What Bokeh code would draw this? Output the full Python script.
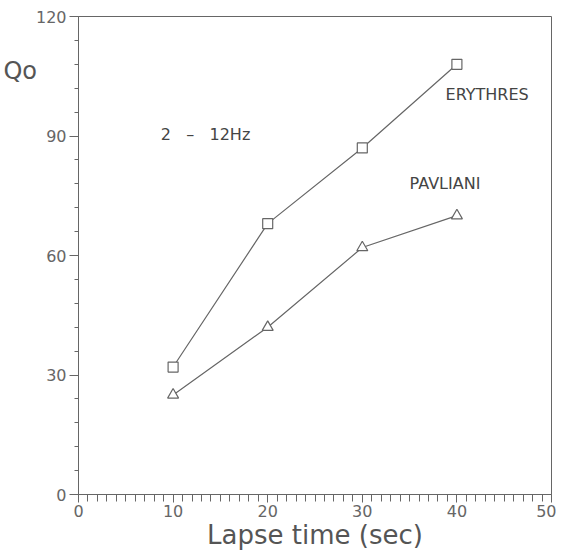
from bokeh.plotting import figure
from bokeh.models import FixedTicker, Range1d, Label
from bokeh.embed import file_html
from bokeh.resources import INLINE

lapse = [10, 20, 30, 40]
erythres = [32, 68, 87, 108]
pavliani = [25, 42, 62, 70]
x_ticks = [0, 10, 20, 30, 40, 50]
y_ticks = [0, 30, 60, 90, 120]

GREY = "#666666"
FONT = "DejaVu Sans"

p = figure(width=556, height=552, output_backend="svg", toolbar_location=None,
           x_range=Range1d(0, 50), y_range=Range1d(0, 120),
           min_border_left=77, min_border_top=16, min_border_right=5, min_border_bottom=58)
p.grid.visible = False
p.outline_line_color = GREY
p.outline_line_width = 1
p.background_fill_color = "white"

p.xaxis.ticker = FixedTicker(ticks=x_ticks, minor_ticks=list(range(0, 51)))
p.yaxis.ticker = FixedTicker(ticks=y_ticks, minor_ticks=list(range(0, 121, 6)))

for ax in (p.xaxis, p.yaxis):
    ax.axis_line_color = GREY
    ax.major_tick_line_color = GREY
    ax.minor_tick_line_color = GREY
    ax.major_tick_in = 0
    ax.minor_tick_in = 0
    ax.major_label_text_font = FONT
    ax.major_label_text_color = GREY
    ax.major_label_text_font_size = "16px"

p.xaxis.major_tick_out = 8
p.xaxis.minor_tick_out = 7
p.xaxis.major_label_standoff = 2
p.xaxis.axis_label = "Lapse time (sec)"
p.xaxis.axis_label_text_font = FONT
p.xaxis.axis_label_text_font_style = "normal"
p.xaxis.axis_label_text_color = "#555555"
p.xaxis.axis_label_text_font_size = "26px"
p.xaxis.axis_label_standoff = 0

p.yaxis.major_tick_out = 9
p.yaxis.minor_tick_out = 4
p.yaxis.major_label_standoff = 3
p.yaxis.axis_label = "Qo" + "\n\u00a0" * 11
p.yaxis.axis_label_orientation = "horizontal"
p.yaxis.axis_label_text_font = FONT
p.yaxis.axis_label_text_font_style = "normal"
p.yaxis.axis_label_text_color = "#555555"
p.yaxis.axis_label_text_font_size = "24px"
p.yaxis.axis_label_standoff = -4

p.line(lapse, erythres, line_color=GREY, line_width=1.2)
p.scatter(lapse, erythres, marker="square", size=10, fill_color="white",
          line_color=GREY, line_width=1.2)
p.line(lapse, pavliani, line_color=GREY, line_width=1.2)
p.scatter(lapse, pavliani, marker="triangle", size=11, fill_color="white",
          line_color=GREY, line_width=1.2)

NB = "\u00a0"
for txt, x, y, fs in [("ERYTHRES", 38.8, 100.3, "16px"),
                      ("PAVLIANI", 35.0, 78.1, "16px"),
                      ("2" + NB * 3 + "\u2013" + NB * 3 + "12Hz", 8.7, 90.3, "16px")]:
    p.add_layout(Label(x=x, y=y, text=txt, text_font=FONT, text_font_size=fs,
                       text_color="#444444", text_baseline="middle"))

open("out.html", "w").write(file_html(p, INLINE))
